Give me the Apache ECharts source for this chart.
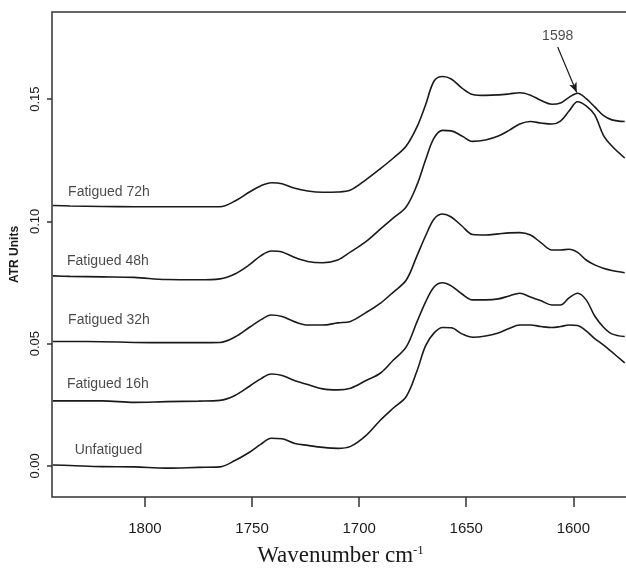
<!DOCTYPE html>
<html>
<head>
<meta charset="utf-8">
<script src="https://cdn.jsdelivr.net/npm/echarts@6/dist/echarts.min.js"></script>
<style>
  html, body { margin: 0; padding: 0; background: #fff; }
  #chart { width: 626px; height: 576px; }
</style>
</head>
<body>
<div id="chart"></div>
<script>
const wavenumber = [1843, 1835, 1820, 1805, 1790, 1775, 1765, 1758, 1751, 1746, 1741, 1736, 1730, 1724, 1717, 1710, 1704, 1697, 1690, 1684, 1678, 1673, 1669, 1665, 1661, 1657, 1652, 1647, 1641, 1635, 1630, 1625, 1620, 1615, 1610, 1606, 1602, 1598, 1594, 1590, 1586, 1582, 1576];

const fatigued72 = [0.1065, 0.1063, 0.1061, 0.1060, 0.1060, 0.1060, 0.1060, 0.1083, 0.1121, 0.1145, 0.1158, 0.1154, 0.1135, 0.1124, 0.1119, 0.1120, 0.1128, 0.1169, 0.1216, 0.1259, 0.1308, 0.1386, 0.1476, 0.1574, 0.1592, 0.1582, 0.1545, 0.1519, 0.1515, 0.1517, 0.1521, 0.1526, 0.1516, 0.1494, 0.1479, 0.1484, 0.1507, 0.1524, 0.1502, 0.1468, 0.1433, 0.1415, 0.1408];
const fatigued48 = [0.0777, 0.0775, 0.0773, 0.0771, 0.0762, 0.0761, 0.0765, 0.0785, 0.0824, 0.0859, 0.0879, 0.0875, 0.0852, 0.0836, 0.0831, 0.0842, 0.0875, 0.0916, 0.0969, 0.1014, 0.1060, 0.1149, 0.1251, 0.1341, 0.1372, 0.1370, 0.1349, 0.1327, 0.1333, 0.1349, 0.1372, 0.1398, 0.1408, 0.1402, 0.1398, 0.1410, 0.1451, 0.1489, 0.1472, 0.1435, 0.1353, 0.1308, 0.1259];
const fatigued32 = [0.0509, 0.0509, 0.0508, 0.0505, 0.0504, 0.0504, 0.0505, 0.0527, 0.0568, 0.0597, 0.0617, 0.0611, 0.0589, 0.0576, 0.0576, 0.0585, 0.0591, 0.0626, 0.0666, 0.0711, 0.0760, 0.0859, 0.0940, 0.1010, 0.1030, 0.1018, 0.0981, 0.0946, 0.0944, 0.0949, 0.0953, 0.0954, 0.0944, 0.0912, 0.0883, 0.0883, 0.0886, 0.0873, 0.0842, 0.0822, 0.0808, 0.0799, 0.0790];
const fatigued16 = [0.0266, 0.0266, 0.0266, 0.0260, 0.0263, 0.0265, 0.0268, 0.0288, 0.0327, 0.0356, 0.0376, 0.0370, 0.0348, 0.0333, 0.0315, 0.0311, 0.0318, 0.0348, 0.0380, 0.0433, 0.0487, 0.0589, 0.0670, 0.0732, 0.0749, 0.0736, 0.0703, 0.0679, 0.0679, 0.0683, 0.0695, 0.0706, 0.0691, 0.0675, 0.0658, 0.0658, 0.0687, 0.0706, 0.0679, 0.0613, 0.0568, 0.0540, 0.0529];
const unfatigued = [0.0004, 0.0002, -0.0003, -0.0004, -0.0009, -0.0006, -0.0004, 0.0022, 0.0057, 0.0088, 0.0113, 0.0111, 0.0092, 0.0084, 0.0076, 0.0072, 0.0080, 0.0123, 0.0188, 0.0237, 0.0284, 0.0388, 0.0491, 0.0544, 0.0566, 0.0565, 0.0540, 0.0526, 0.0531, 0.0544, 0.0562, 0.0576, 0.0576, 0.0570, 0.0566, 0.0570, 0.0576, 0.0574, 0.0552, 0.0521, 0.0495, 0.0466, 0.0421];

const xTicks = [1800, 1750, 1700, 1650, 1600];
const yTicks = [0, 0.05, 0.10, 0.15];

// curve captions, placed in data coordinates
const captionText = ['Fatigued 72h', 'Fatigued 48h', 'Fatigued 32h', 'Fatigued 16h', 'Unfatigued', '1598'];
const captionX = [1816.8, 1817.3, 1816.8, 1817.3, 1817, 1607.3];
const captionY = [0.1120, 0.0838, 0.0597, 0.0335, 0.0065, 0.1758];

// arrow pointing at the 1598 band
const arrowFrom = [1607.3, 0.1713];
const arrowTo = [1598.4, 0.1527];

const sans = "'Liberation Sans', Arial, sans-serif";
const ink = '#1a1a1a';

const pairs = ys => wavenumber.map((x, i) => [x, ys[i]]);

const curve = (name, ys) => ({
    name: name,
    type: 'line',
    data: pairs(ys),
    smooth: 0.35,
    symbol: 'none',
    lineStyle: { color: ink, width: 1.6 },
    z: 3
});

let chart = echarts.init(document.getElementById('chart'));
let c72 = curve('Fatigued 72h', fatigued72);
c72.markLine = {
    silent: true,
    symbol: ['none', 'arrow'],
    symbolSize: [6, 10],
    label: { show: false },
    lineStyle: { color: ink, width: 1.2, type: 'solid' },
    data: [[{ coord: arrowFrom }, { coord: arrowTo }]]
};

chart.setOption({
    animation: false,
    backgroundColor: '#fff',
    grid: {
        left: 52,
        right: -3,
        top: 12,
        bottom: 79,
        outerBoundsMode: 'none',
        show: true,
        borderColor: '#333',
        borderWidth: 1.5
    },
    xAxis: {
        type: 'value',
        inverse: true,
        min: 1574,
        max: 1843.4,
        name: 'Wavenumber cm{sup|-1}',
        nameLocation: 'middle',
        nameGap: 47,
        nameTextStyle: {
            fontFamily: "'Liberation Serif', 'DejaVu Serif', serif",
            fontSize: 23,
            color: ink,
            rich: {
                sup: { fontFamily: "'Liberation Serif', serif", fontSize: 13, color: ink, verticalAlign: 'top', padding: [0, 0, 10, 0] }
            }
        },
        axisLine: { show: false, onZero: false },
        splitLine: { show: false },
        axisTick: { show: true, length: 10, lineStyle: { color: '#333', width: 1.5 }, customValues: xTicks },
        axisLabel: { customValues: xTicks, margin: 24, fontFamily: sans, fontSize: 15, color: ink, formatter: v => String(v) }
    },
    yAxis: {
        type: 'value',
        min: -0.0127,
        max: 0.1856,
        name: 'ATR Units',
        nameLocation: 'middle',
        nameGap: 30,
        nameTextStyle: { fontFamily: sans, fontWeight: 'bold', fontSize: 12, color: ink },
        axisLine: { show: false, onZero: false },
        splitLine: { show: false },
        axisTick: { show: true, length: 5, lineStyle: { color: '#333', width: 1.5 }, customValues: yTicks },
        axisLabel: {
            customValues: yTicks,
            rotate: 90,
            margin: 10,
            fontFamily: sans,
            fontSize: 13,
            color: ink,
            formatter: v => v.toFixed(2)
        }
    },
    series: [
        c72,
        curve('Fatigued 48h', fatigued48),
        curve('Fatigued 32h', fatigued32),
        curve('Fatigued 16h', fatigued16),
        curve('Unfatigued', unfatigued),
        {
            type: 'scatter',
            symbolSize: 0,
            silent: true,
            data: captionText.map((t, i) => ({ name: t, value: [captionX[i], captionY[i]] })),
            label: {
                show: true,
                position: 'inside',
                formatter: p => p.name,
                fontFamily: sans,
                fontSize: 14,
                color: ink
            },
            z: 4
        }
    ]
});
</script>
</body>
</html>
